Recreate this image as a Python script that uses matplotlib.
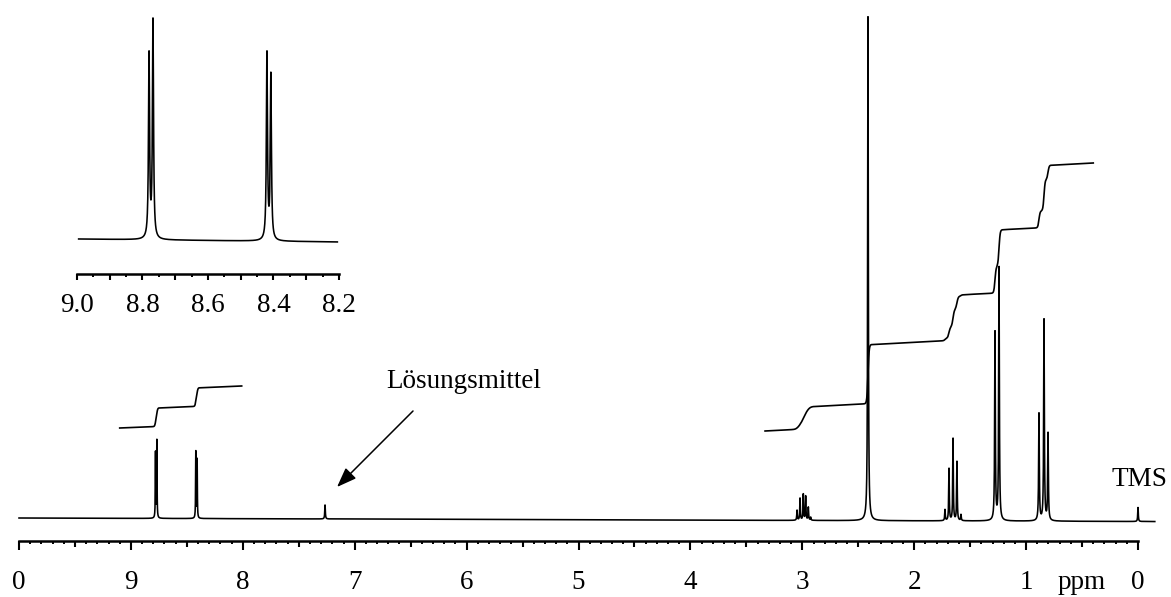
import numpy as np
import matplotlib
matplotlib.use('Agg')
import matplotlib.pyplot as plt
from matplotlib.ticker import FixedLocator, FixedFormatter

plt.rcParams['font.family'] = ['Liberation Serif', 'DejaVu Serif']

# --- peak list (ppm, height above baseline, half width) ---
PEAK_PPM = [8.780, 8.768, 8.420, 8.408,
            7.265,
            3.047, 3.020, 2.991, 2.970, 2.946, 2.925,
            2.413,
            1.725, 1.689, 1.653, 1.618, 1.582,
            1.278, 1.242,
            0.885, 0.840, 0.804,
            0.000]
PEAK_HEIGHT = [65.4, 77.5, 66.4, 58.6,
               14,
               10, 22, 26, 24, 13, 3,
               504,
               11, 52, 82, 59, 6,
               188, 253,
               107, 201, 87,
               14]
PEAK_HWHM = [0.002, 0.002, 0.002, 0.002,
             0.003,
             0.003, 0.003, 0.003, 0.003, 0.003, 0.003,
             0.0035,
             0.003, 0.003, 0.003, 0.003, 0.003,
             0.0035, 0.0035,
             0.0035, 0.0035, 0.0035,
             0.003]
# which integral group each line belongs to (-1 = not integrated)
PEAK_GROUP = [0, 0, 1, 1,
              -1,
              2, 2, 2, 2, 2, 2,
              3,
              4, 4, 4, 4, 4,
              5, 5,
              6, 6, 6,
              -1]

# integral step heights per group and their smoothing
INTEGRAL_STEP = [18.5, 18.5, 22, 59, 45, 63, 62]
INTEGRAL_SMOOTH = [0.008, 0.008, 0.02, 0.01, 0.012, 0.01, 0.01]

# integral curve segments
SEG_START = [9.10, 3.333]
SEG_END = [8.01, 0.40]
SEG_LEVEL = [90.5, 87.5]
SEG_DRIFT = [4.6, 5.8]
SEG_GROUPS = [[0, 1], [2, 3, 4, 5, 6]]

MAIN_TICKS = [10, 9, 8, 7, 6, 5, 4, 3, 2, 1, 0]
MAIN_TICK_LABELS = ['0', '9', '8', '7', '6', '5', '4', '3', '2', '1', '0']

INSET_TICKS = [9.0, 8.9, 8.8, 8.7, 8.6, 8.5, 8.4, 8.3, 8.2]
INSET_TICK_LABELS = ['9.0', '', '8.8', '', '8.6', '', '8.4', '', '8.2']
INSET_SCALE = 2.8

W, H = 1171, 597
FS = 19.5


def lorentz(x, sel=None):
    y = np.zeros_like(x)
    for i, (p, h, w) in enumerate(zip(PEAK_PPM, PEAK_HEIGHT, PEAK_HWHM)):
        if sel is not None and i not in sel:
            continue
        y += h * w ** 2 / ((x - p) ** 2 + w ** 2)
    return y


fig = plt.figure(figsize=(W / 100, H / 100), dpi=100)

# main spectrum axes: 10 ppm at px 19, 111.9 px per ppm, axis line at px 540.5
ax = fig.add_axes([19 / W, 56.5 / H, 1141.4 / W, 540.5 / H])
ax.set_xlim(10, -0.2)
ax.set_ylim(-22, 518.5)
ax.patch.set_visible(False)

x = np.linspace(-0.15, 10.0, 60001)
baseline = 0.5 - 0.35 * (10 - x)
ax.plot(x, baseline + lorentz(x), color='black', lw=1.15, clip_on=False)

# integral curves
for s0, s1, lev, drift, groups in zip(SEG_START, SEG_END, SEG_LEVEL, SEG_DRIFT, SEG_GROUPS):
    xi = np.linspace(s1, s0, 4000)
    yi = lev + drift * (s0 - xi)
    for g in groups:
        idx = [i for i, pg in enumerate(PEAK_GROUP) if pg == g]
        htot = sum(PEAK_HEIGHT[i] for i in idx)
        for i in idx:
            frac = PEAK_HEIGHT[i] / htot
            yi += INTEGRAL_STEP[g] * frac * 0.5 * (1 + np.tanh((PEAK_PPM[i] - xi) / INTEGRAL_SMOOTH[g]))
    ax.plot(xi, yi, color='black', lw=1.2)

for sp in ['left', 'right', 'top']:
    ax.spines[sp].set_visible(False)
ax.spines['bottom'].set_linewidth(1.8)
ax.spines['bottom'].set_bounds(0, 10)
ax.set_yticks([])
ax.xaxis.set_major_locator(FixedLocator(MAIN_TICKS))
ax.xaxis.set_major_formatter(FixedFormatter(MAIN_TICK_LABELS))
ax.xaxis.set_minor_locator(FixedLocator(np.round(np.arange(0, 10.001, 0.1), 1)))
ax.tick_params(axis='x', which='major', direction='out', length=6.2, width=1.5,
               pad=15, labelsize=FS)
ax.tick_params(axis='x', which='minor', direction='out', length=2.2, width=1.4)

# half-ppm ticks (and the unit label) on a second axis
sec = ax.secondary_xaxis('bottom')
half = list(np.arange(0.5, 10, 1.0))
sec.set_xticks(half)
sec.set_xticklabels(['ppm'] + [''] * (len(half) - 1))
sec.tick_params(axis='x', direction='out', length=4.6, width=1.5, pad=16.6, labelsize=FS)
sec.spines['bottom'].set_visible(False)

# labels
ax.text(-0.01, 38.5, 'TMS', fontsize=FS, ha='center', va='center')
ax.text(6.03, 136.5, 'Lösungsmittel', fontsize=FS, ha='center', va='center')
ax.annotate('', xy=(7.158, 31.5), xytext=(6.479, 107.5),
            arrowprops=dict(arrowstyle='-|>,head_length=0.8,head_width=0.3',
                            color='black', lw=1.1, mutation_scale=15,
                            shrinkA=0, shrinkB=0))

# inset: expanded aromatic region
axi = fig.add_axes([77 / W, (H - 273.7) / H, 262 / W, 273.7 / H])
axi.set_xlim(9.0, 8.2)
axi.set_ylim(-34.7, 239)
axi.patch.set_visible(False)
xs = np.linspace(8.205, 8.995, 20001)
inset_base = -3.75 * (9.0 - xs)
sel = [i for i, p in enumerate(PEAK_PPM) if 8.2 < p < 9.0]
axi.plot(xs, inset_base + INSET_SCALE * lorentz(xs, sel), color='black', lw=1.15)
for sp in ['left', 'right', 'top']:
    axi.spines[sp].set_visible(False)
axi.spines['bottom'].set_linewidth(1.8)
axi.set_yticks([])
axi.xaxis.set_major_locator(FixedLocator(INSET_TICKS))
axi.xaxis.set_major_formatter(FixedFormatter(INSET_TICK_LABELS))
axi.xaxis.set_minor_locator(FixedLocator(np.round(np.arange(8.25, 9.0, 0.1), 2)))
axi.tick_params(axis='x', which='major', direction='out', length=4.6, width=1.5,
                pad=9, labelsize=FS)
axi.tick_params(axis='x', which='minor', direction='out', length=1.8, width=1.4)

fig.savefig('out.png', dpi=100)
